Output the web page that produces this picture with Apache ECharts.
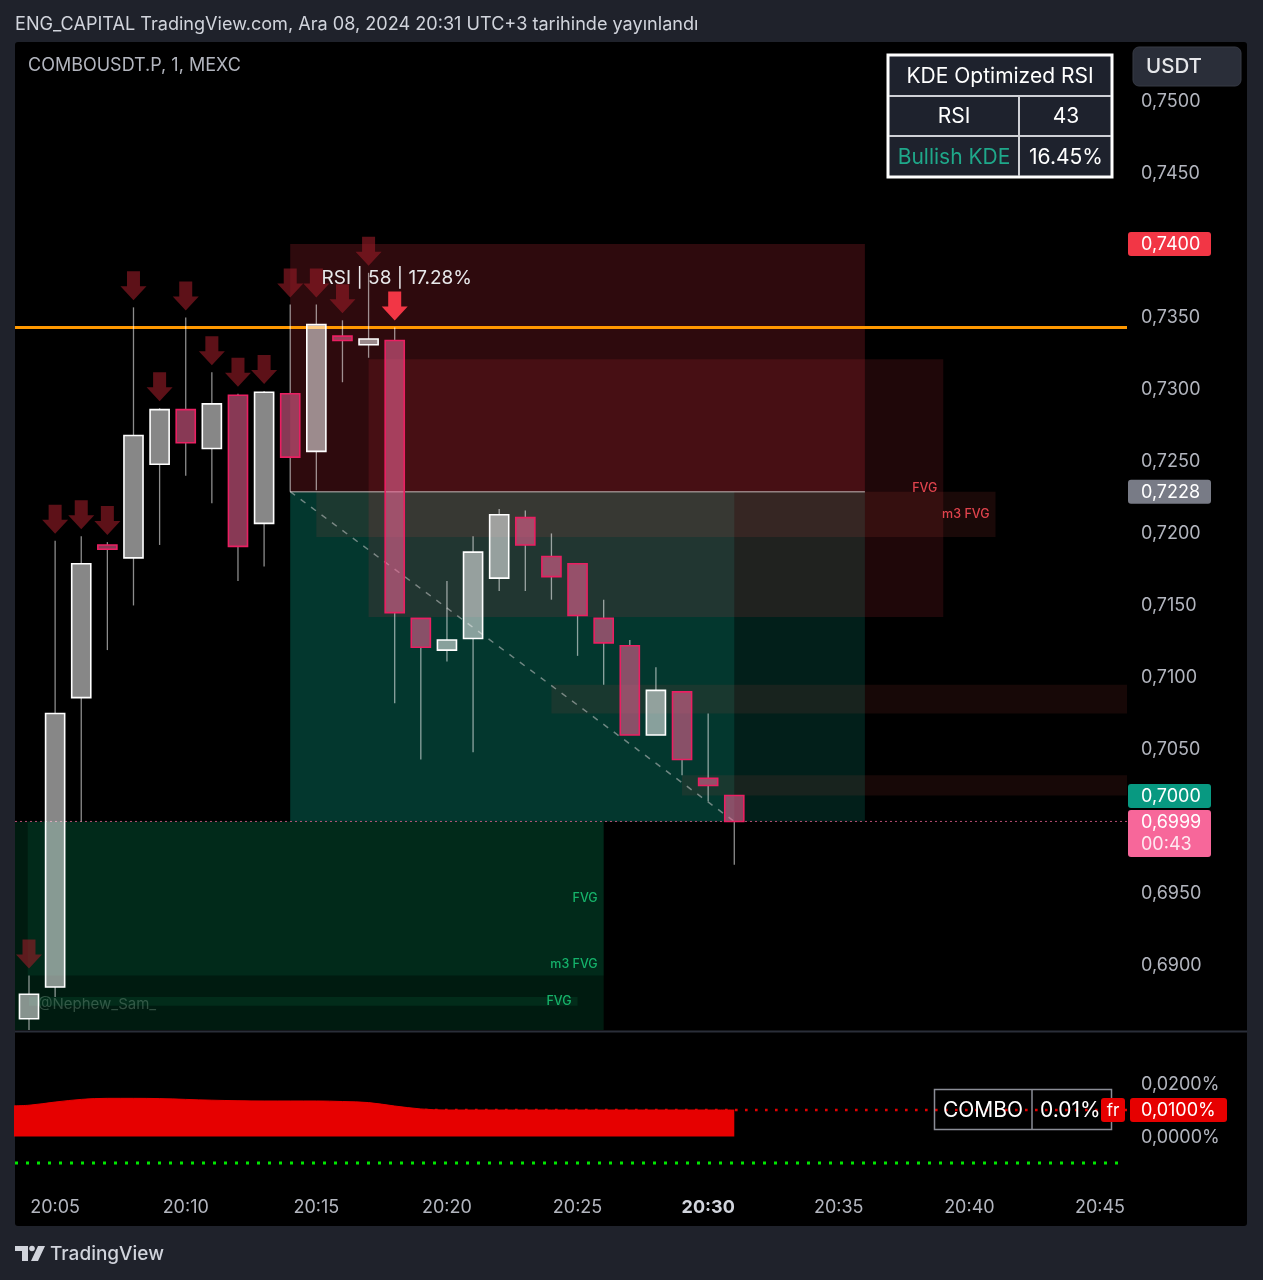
<!DOCTYPE html>
<html><head><meta charset="utf-8">
<script src="https://cdn.jsdelivr.net/npm/echarts@6/dist/echarts.min.js"></script>
<style>html,body{margin:0;padding:0;background:#1f222b;}#c{width:1263px;height:1280px;}</style>
</head><body><div id="c"></div>
<script>
// ---------- DATA (minutes after 20:00, prices in USDT) ----------
const candleTimes = [4,5,6,7,8,9,10,11,12,13,14,15,16,17,18,19,20,21,22,23,24,25,26,27,28,29,30,31];
const opens  = [0.6862,0.6884,0.7085,0.7191,0.7182,0.7247,0.7285,0.7258,0.7295,0.7206,0.7296,0.7256,0.7336,0.7330,0.7333,0.7140,0.7118,0.7126,0.7168,0.7210,0.7183,0.7178,0.7140,0.7121,0.7059,0.7089,0.7029,0.7017];
const highs  = [0.6892,0.7194,0.7197,0.7193,0.7356,0.7286,0.7349,0.7311,0.7296,0.7298,0.7358,0.7358,0.7347,0.7380,0.7342,0.7140,0.7166,0.7197,0.7216,0.7215,0.7199,0.7178,0.7153,0.7125,0.7106,0.7089,0.7074,0.7017];
const lows   = [0.6850,0.6877,0.6999,0.7118,0.7149,0.7191,0.7239,0.7220,0.7166,0.7176,0.7228,0.7229,0.7304,0.7321,0.7081,0.7042,0.7110,0.7047,0.7159,0.7159,0.7153,0.7114,0.7094,0.7059,0.7059,0.7031,0.7013,0.6969];
const closes = [0.6879,0.7074,0.7178,0.7188,0.7267,0.7285,0.7262,0.7289,0.7190,0.7297,0.7252,0.7344,0.7333,0.7334,0.7144,0.7120,0.7125,0.7186,0.7212,0.7191,0.7169,0.7142,0.7123,0.7059,0.7090,0.7042,0.7024,0.6999];

const sellSignalTimes = [4,5,6,7,8,9,10,11,12,13,14,15,16,17];
const strongSellTimes = [18];

const fundingTimes  = [3,4,5,6,7,8,9,10,11,12,13,14,15,16,17,18,19,20,21,22,23,24,25,26,27,28,29,30,31];
const fundingValues = [0.0115,0.0118,0.0130,0.0140,0.0144,0.0144,0.0143,0.0140,0.0137,0.0135,0.0134,0.0134,0.0134,0.0132,0.0128,0.0115,0.0104,0.0100,0.0100,0.0100,0.0100,0.0100,0.0100,0.0100,0.0100,0.0100,0.0100,0.0100,0.0100];
const fundingLevel = 0.01;
const fundingFloor = -0.01;
const floorLineEnd = 45.8;

const zoneNames  = ['stop','targetAll','targetLive','fvgBear','m3FvgBear','gapA','gapB','m3FvgBull','fvgBull','fvgBullThin'];
const zoneStart  = [14, 14, 14, 17, 15, 24, 29, 3, 3.95, 4];
const zoneEnd    = [36, 36, 31, 39, 41, 47, 47, 26, 26, 25];
const zoneTop    = [0.7400, 0.7228, 0.7228, 0.7320, 0.7228, 0.7094, 0.7031, 0.6999, 0.6999, 0.6877];
const zoneBottom = [0.7228, 0.6999, 0.6999, 0.7141, 0.71965, 0.7074, 0.7017, 0.6800, 0.6892, 0.6871];
const zoneLabels = ['', '', '', 'FVG', 'm3 FVG', '', '', 'm3 FVG', 'FVG', 'FVG'];

const entryLevel = [14, 36, 0.7228];
const pathLine = [14, 0.7228, 31, 0.6999];
const resistanceLevel = 0.7342;
const lastPrice = 0.6999;

const rsiNote = {t: 15.2, p: 0.7376, text: 'RSI | 58 | 17.28%'};

const timeTicks = [5,10,15,20,25,30,35,40,45];
const priceTicks = [0.690,0.695,0.700,0.705,0.710,0.715,0.720,0.725,0.730,0.735,0.740,0.745,0.750];
const fundingTicks = [0, 0.01, 0.02];

const priceBadgeValues = [0.7400, 0.7228, 0.7000, 0.6999];
const countdown = '00:43';
const kdeTitle = 'KDE Optimized RSI';
const kdeRows = [['RSI','43'],['Bullish KDE','16.45%']];
const comboRow = ['COMBO','0.01%'];

// ---------- STYLE ----------
const FONT = 'Inter, "Noto Sans", sans-serif';
const zoneFill = {
  stop:'rgba(242,54,69,0.19)', targetAll:'rgba(8,153,129,0.20)', targetLive:'rgba(8,153,129,0.20)',
  fvgBear:'rgba(242,54,69,0.13)', m3FvgBear:'rgba(210,73,67,0.12)', gapA:'rgba(210,73,67,0.11)', gapB:'rgba(210,73,67,0.11)',
  m3FvgBull:'rgba(0,135,80,0.20)', fvgBull:'rgba(10,177,116,0.10)', fvgBullThin:'rgba(20,170,100,0.12)'
};
const zoneLabelColor = {fvgBear:'#e0434d', m3FvgBear:'#e0434d', m3FvgBull:'#16b36a', fvgBull:'#16b36a', fvgBullThin:'#16b36a'};

const X_MIN = 3.464, X_MAX = 46.034;
const Y_MIN = 0.685417, Y_MAX = 0.754028;
const F_MIN = -0.016415, F_MAX = 0.039057;

const candleData = candleTimes.map((t,i)=>[t, opens[i], highs[i], lows[i], closes[i]]);
const highAt = t => highs[candleTimes.indexOf(t)];
const zoneData = zoneNames.map((n,i)=>[zoneStart[i], zoneEnd[i], zoneTop[i], zoneBottom[i], i]);

function clipRect(r, cs){
  const x0=Math.max(r.x,cs.x), y0=Math.max(r.y,cs.y);
  const x1=Math.min(r.x+r.width, cs.x+cs.width), y1=Math.min(r.y+r.height, cs.y+cs.height);
  if (x1<=x0 || y1<=y0) return null;
  return {x:x0,y:y0,width:x1-x0,height:y1-y0};
}

function renderZone(params, api){
  const i = api.value(4), name = zoneNames[i];
  const a = api.coord([api.value(0), api.value(2)]);
  const b = api.coord([api.value(1), api.value(3)]);
  const raw = {x:a[0], y:a[1], width:b[0]-a[0], height:b[1]-a[1]};
  const r = clipRect(raw, params.coordSys);
  const children = [];
  if (r) children.push({type:'rect', shape:r, style:{fill:zoneFill[name]}});
  if (zoneLabels[i]) children.push({type:'text', style:{text:zoneLabels[i], x:b[0]-6, y:(a[1]+b[1])/2, align:'right', verticalAlign:'middle', fill:zoneLabelColor[name], font:'500 12.5px '+FONT}});
  return {type:'group', children};
}

function renderCandle(params, api){
  const t=api.value(0), o=api.value(1), h=api.value(2), l=api.value(3), c=api.value(4);
  const po=api.coord([t,o]), pc=api.coord([t,c]), ph=api.coord([t,h]), pl=api.coord([t,l]);
  const w = api.size([1,0])[0]*0.73;
  const bull = c>=o;
  const top=Math.min(po[1],pc[1]), bot=Math.max(po[1],pc[1]);
  const x=po[0];
  const wick={stroke:'rgba(255,255,255,0.55)', lineWidth:1.3};
  return {type:'group', children:[
    {type:'line', shape:{x1:x,y1:ph[1],x2:x,y2:top}, style:wick},
    {type:'line', shape:{x1:x,y1:bot,x2:x,y2:pl[1]}, style:wick},
    {type:'rect', shape:{x:x-w/2,y:top,width:w,height:Math.max(bot-top,3)},
      style:{fill: bull?'rgba(255,255,255,0.53)':'rgba(240,100,150,0.57)', stroke: bull?'#ffffff':'#ea1f62', lineWidth:1.6}}
  ]};
}

function makeArrowRenderer(color){
  return function(params, api){
    const p = api.coord([api.value(0), api.value(1)]);
    const x=p[0], tip=p[1]-7;
    return {type:'polygon', shape:{points:[[x-6.5,tip-29],[x+6.5,tip-29],[x+6.5,tip-14],[x+13,tip-14],[x,tip],[x-13,tip-14],[x-6.5,tip-14]]}, style:{fill:color}};
  };
}

function renderSegment(style){
  return function(params, api){
    const a=api.coord([api.value(0),api.value(1)]), b=api.coord([api.value(2),api.value(3)]);
    return {type:'line', shape:{x1:a[0],y1:a[1],x2:b[0],y2:b[1]}, style:style};
  };
}

const fmtPrice = v => v.toFixed(4).replace('.',',');
const fmtTime = v => '20:' + String(v).padStart(2,'0');

const chart = echarts.init(document.getElementById('c'), null, {renderer:'canvas'});
const option = {
  backgroundColor:'#1f222b',
  animation:false,
  textStyle:{fontFamily:FONT},
  grid:[
    {left:15, top:42, width:1112, height:988},
    {left:15, top:1033, width:1112, height:147}
  ],
  xAxis:[
    {gridIndex:0, type:'value', min:X_MIN, max:X_MAX, show:false},
    {gridIndex:1, type:'value', min:X_MIN, max:X_MAX,
     axisLine:{show:false}, axisTick:{show:false}, splitLine:{show:false},
     axisLabel:{customValues:timeTicks, margin:19, color:'#b2b5be', fontSize:18, fontFamily:FONT,
       formatter:v=> v===30 ? '{b|'+fmtTime(v)+'}' : fmtTime(v),
       rich:{b:{fontWeight:'bold', color:'#d1d4dc', fontSize:18, fontFamily:FONT}}}}
  ],
  yAxis:[
    {gridIndex:0, type:'value', position:'right', min:Y_MIN, max:Y_MAX,
     axisLine:{show:false}, axisTick:{show:false}, splitLine:{show:false},
     axisLabel:{customValues:priceTicks, margin:14, color:'#b2b5be', fontSize:18, fontFamily:FONT,
       formatter:v=>'{p|'+fmtPrice(v)+'}', rich:{p:{color:'#b2b5be', fontSize:18, fontFamily:FONT, padding:[4,0,0,0]}}}},
    {gridIndex:1, type:'value', position:'right', min:F_MIN, max:F_MAX,
     axisLine:{show:false}, axisTick:{show:false}, splitLine:{show:false},
     axisLabel:{customValues:fundingTicks, margin:14, color:'#b2b5be', fontSize:18, fontFamily:FONT,
       formatter:v=>'{p|'+v.toFixed(4).replace('.',',')+'%}', rich:{p:{color:'#b2b5be', fontSize:18, fontFamily:FONT, padding:[3,0,0,0]}}}}
  ],
  series:[
    {type:'custom', name:'zones', xAxisIndex:0, yAxisIndex:0, renderItem:renderZone, data:zoneData, z:1, clip:false, silent:true},
    {type:'custom', name:'entry', xAxisIndex:0, yAxisIndex:0, renderItem:renderSegment({stroke:'rgba(210,200,200,0.6)', lineWidth:1.5}),
      data:[[entryLevel[0], entryLevel[2], entryLevel[1], entryLevel[2]]], z:2, silent:true},
    {type:'custom', name:'path', xAxisIndex:0, yAxisIndex:0, renderItem:renderSegment({stroke:'rgba(200,200,200,0.55)', lineWidth:1.5, lineDash:[6,7]}),
      data:[pathLine], z:2, silent:true},
    {type:'custom', name:'resistance', xAxisIndex:0, yAxisIndex:0, renderItem:renderSegment({stroke:'#ff9800', lineWidth:3}),
      data:[[X_MIN, resistanceLevel, X_MAX, resistanceLevel]], z:3, silent:true},
    {type:'custom', name:'last', xAxisIndex:0, yAxisIndex:0, renderItem:renderSegment({stroke:'rgba(240,100,150,0.75)', lineWidth:1, lineDash:[2,3]}),
      data:[[X_MIN, lastPrice, X_MAX, lastPrice]], z:3, silent:true},
    {type:'custom', name:'candles', xAxisIndex:0, yAxisIndex:0, renderItem:renderCandle, data:candleData, clip:true, z:4,
      encode:{x:0, y:[1,2,3,4]}},
    {type:'custom', name:'sell', xAxisIndex:0, yAxisIndex:0, renderItem:makeArrowRenderer('rgba(150,28,38,0.62)'),
      data:sellSignalTimes.map(t=>[t, highAt(t)]), z:5},
    {type:'custom', name:'strongSell', xAxisIndex:0, yAxisIndex:0, renderItem:makeArrowRenderer('#f23645'),
      data:strongSellTimes.map(t=>[t, highAt(t)]), z:5},
    {type:'custom', name:'rsiNote', xAxisIndex:0, yAxisIndex:0, z:6,
      renderItem:(params, api)=>{const p=api.coord([api.value(0),api.value(1)]);
        return {type:'text', style:{text:rsiNote.text, x:p[0], y:p[1], align:'left', verticalAlign:'middle', fill:'#e8e8ea', font:'19px '+FONT}};},
      data:[[rsiNote.t, rsiNote.p]]},
    {type:'line', name:'funding', xAxisIndex:1, yAxisIndex:1, data:fundingTimes.map((t,i)=>[t,fundingValues[i]]),
      smooth:0.35, symbol:'none', clip:true, lineStyle:{color:'#e60000', width:1}, areaStyle:{color:'#e60000', opacity:1, origin:0}, z:3},
    {type:'custom', name:'fundingLevel', xAxisIndex:1, yAxisIndex:1, renderItem:renderSegment({stroke:'#e60000', lineWidth:2.6, lineDash:[2.6,7.4]}),
      data:[[X_MIN, fundingLevel, X_MAX, fundingLevel]], z:4, silent:true},
    {type:'custom', name:'fundingFloor', xAxisIndex:1, yAxisIndex:1, renderItem:renderSegment({stroke:'#00e600', lineWidth:3, lineDash:[3,8]}),
      data:[[X_MIN, fundingFloor, floorLineEnd, fundingFloor]], z:4, silent:true}
  ]
};
chart.setOption(option);

// ---------- overlays (positions from the chart's own scales) ----------
const py = v => chart.convertToPixel({yAxisIndex:0}, v);
const fy = v => chart.convertToPixel({yAxisIndex:1}, v);
const g = [];
g.push({type:'rect', z:-10, shape:{x:15,y:42,width:1232,height:1184,r:3}, style:{fill:'#000'}});
g.push({type:'rect', z:-9, shape:{x:15,y:1030.5,width:1232,height:2}, style:{fill:'#2a2e39'}});
g.push({type:'text', z:100, style:{text:'ENG_CAPITAL TradingView.com, Ara 08, 2024 20:31 UTC+3 tarihinde yayınlandı', x:15, y:25, verticalAlign:'middle', fill:'#d1d4dc', font:'18.1px '+FONT}});
g.push({type:'text', z:100, style:{text:'COMBOUSDT.P, 1, MEXC', x:28, y:66, verticalAlign:'middle', fill:'#b2b5be', font:'18px '+FONT}});
g.push({type:'rect', z:100, shape:{x:1133,y:47,width:108,height:39,r:6}, style:{fill:'#2a2e39', stroke:'#363a45', lineWidth:1}});
g.push({type:'text', z:101, style:{text:'USDT', x:1146, y:67, verticalAlign:'middle', fill:'#e6e7ea', font:'500 20.5px '+FONT}});
g.push({type:'rect', z:100, shape:{x:888,y:55,width:224,height:122}, style:{fill:'#1e222d', stroke:'#ffffff', lineWidth:3}});
g.push({type:'line', z:101, shape:{x1:889,y1:96,x2:1111,y2:96}, style:{stroke:'#cfd1d6', lineWidth:2}});
g.push({type:'line', z:101, shape:{x1:889,y1:136,x2:1111,y2:136}, style:{stroke:'#cfd1d6', lineWidth:2}});
g.push({type:'line', z:101, shape:{x1:1019,y1:96,x2:1019,y2:176}, style:{stroke:'#cfd1d6', lineWidth:2}});
g.push({type:'text', z:102, style:{text:kdeTitle, x:1000, y:77, align:'center', verticalAlign:'middle', fill:'#ffffff', font:'21px '+FONT}});
g.push({type:'text', z:102, style:{text:kdeRows[0][0], x:954, y:117, align:'center', verticalAlign:'middle', fill:'#ffffff', font:'21px '+FONT}});
g.push({type:'text', z:102, style:{text:kdeRows[0][1], x:1066, y:117, align:'center', verticalAlign:'middle', fill:'#ffffff', font:'21px '+FONT}});
g.push({type:'text', z:102, style:{text:kdeRows[1][0], x:954, y:157.5, align:'center', verticalAlign:'middle', fill:'#1fa88a', font:'21px '+FONT}});
g.push({type:'text', z:102, style:{text:kdeRows[1][1], x:1066, y:157.5, align:'center', verticalAlign:'middle', fill:'#ffffff', font:'21px '+FONT}});
g.push({type:'text', z:100, style:{text:'@Nephew_Sam_', x:38, y:1004, verticalAlign:'middle', fill:'rgba(140,175,155,0.35)', font:'15px '+FONT}});
const badgeColors = ['#f23645','#787b86','#089981','#f7679a'];
priceBadgeValues.forEach((v,i)=>{
  let cy = py(v);
  if (i===2) cy = py(priceBadgeValues[3]) - 25.5;
  if (i===3){
    g.push({type:'rect', z:100, shape:{x:1128,y:cy-11.5,width:83,height:47,r:3}, style:{fill:badgeColors[i]}});
    g.push({type:'text', z:101, style:{text:fmtPrice(v), x:1141, y:cy+1, verticalAlign:'middle', fill:'#ffffff', font:'18px '+FONT}});
    g.push({type:'text', z:101, style:{text:countdown, x:1141, y:cy+23, verticalAlign:'middle', fill:'rgba(255,255,255,0.85)', font:'18px '+FONT}});
  } else {
    g.push({type:'rect', z:100, shape:{x:1128,y:cy-12,width:83,height:24,r:3}, style:{fill:badgeColors[i]}});
    g.push({type:'text', z:101, style:{text:fmtPrice(v), x:1141, y:cy+1, verticalAlign:'middle', fill:'#ffffff', font:'18px '+FONT}});
  }
});
const fl = fy(fundingLevel);
g.push({type:'rect', z:100, shape:{x:934.5,y:fl-20.5,width:177,height:40}, style:{fill:'rgba(0,0,0,0)', stroke:'#8a8d96', lineWidth:1.5}});
g.push({type:'line', z:100, shape:{x1:1032,y1:fl-20.5,x2:1032,y2:fl+19.5}, style:{stroke:'#8a8d96', lineWidth:1.5}});
g.push({type:'text', z:101, style:{text:comboRow[0], x:983, y:fl+1, align:'center', verticalAlign:'middle', fill:'#ffffff', font:'21px '+FONT}});
g.push({type:'text', z:101, style:{text:comboRow[1], x:1040, y:fl+1, verticalAlign:'middle', fill:'#ffffff', font:'21px '+FONT}});
g.push({type:'rect', z:102, shape:{x:1101,y:fl-12,width:24,height:24,r:3}, style:{fill:'#e60000'}});
g.push({type:'text', z:103, style:{text:'fr', x:1113, y:fl+1, align:'center', verticalAlign:'middle', fill:'#ffffff', font:'17px '+FONT}});
g.push({type:'rect', z:102, shape:{x:1130,y:fl-12,width:97,height:24,r:3}, style:{fill:'#e60000'}});
g.push({type:'text', z:103, style:{text:fundingLevel.toFixed(4).replace('.',',')+'%', x:1141, y:fl+1, verticalAlign:'middle', fill:'#ffffff', font:'18px '+FONT}});
g.push({type:'polygon', z:100, shape:{points:[[15,1246],[28,1246],[28,1261],[22,1261],[22,1251],[15,1251]]}, style:{fill:'#d1d4dc'}});
g.push({type:'circle', z:100, shape:{cx:32,cy:1248.5,r:2.8}, style:{fill:'#d1d4dc'}});
g.push({type:'polygon', z:100, shape:{points:[[38,1246],[45,1246],[38,1261],[31,1261]]}, style:{fill:'#d1d4dc'}});
g.push({type:'text', z:100, style:{text:'TradingView', x:50, y:1254, verticalAlign:'middle', fill:'#d1d4dc', font:'500 19px '+FONT}});
chart.setOption({graphic:{elements:g}});
</script>
</body></html>
